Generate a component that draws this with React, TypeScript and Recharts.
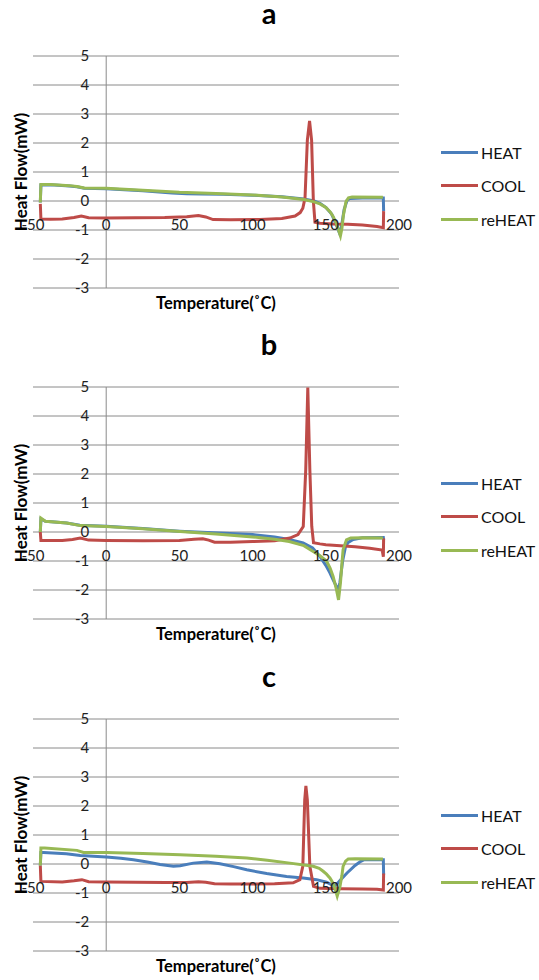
import React from "react";
import {
  LineChart,
  Line,
  XAxis,
  YAxis,
  CartesianGrid,
  ReferenceLine,
} from "recharts";

type Pt = [number, number];

// [temperature °C, heat flow mW]
const A_HEAT: Pt[] = [
  [-45, -0.05], [-44.6, 0.55], [-38, 0.56], [-25, 0.52], [-20, 0.49], [-15, 0.44],
  [0, 0.42], [25, 0.35], [45, 0.28], [55, 0.25], [65, 0.24], [80, 0.23], [100, 0.2],
  [120, 0.15], [135, 0.07], [142, 0.0], [146, -0.08], [150, -0.22], [154, -0.45],
  [157, -0.8], [159.3, -1.1], [160.8, -0.85], [162.5, -0.3], [164.5, 0.02], [166.5, 0.09],
  [175, 0.1], [189.3, 0.1], [189.5, -0.35],
];
const A_COOL: Pt[] = [
  [189.5, -0.35], [189.3, -0.92], [185, -0.88], [175, -0.83], [165, -0.8], [155, -0.79],
  [146, -0.77], [142.6, -0.73], [141.5, 0.0], [140.3, 2.1], [138.9, 2.76], [137.4, 2.1],
  [135.8, 0.1], [134.3, -0.25], [132.5, -0.4], [129, -0.52], [120, -0.6], [105, -0.64],
  [85, -0.65], [73, -0.64], [68, -0.55], [63, -0.5], [55, -0.54], [40, -0.57], [20, -0.58],
  [0, -0.59], [-12, -0.58], [-17, -0.52], [-22, -0.57], [-30, -0.62], [-38, -0.63],
  [-44.6, -0.62], [-45, -0.1],
];
const A_REHEAT: Pt[] = [
  [-45, -0.05], [-44.6, 0.57], [-38, 0.57], [-25, 0.53], [-20, 0.5], [-15, 0.45],
  [0, 0.44], [25, 0.37], [50, 0.3], [75, 0.26], [100, 0.21], [120, 0.14], [135, 0.05],
  [142, -0.03], [146, -0.1], [150, -0.22], [153, -0.38], [155, -0.53], [157, -0.75],
  [158.6, -0.98], [160, -1.2], [161, -0.95], [162, -0.5], [163.8, -0.02], [165.5, 0.11],
  [168, 0.14], [189, 0.13],
];

const B_HEAT: Pt[] = [
  [-45, 0.0], [-44.6, 0.45], [-41.5, 0.37], [-27, 0.31], [-18, 0.23], [0, 0.2],
  [25, 0.12], [50, 0.03], [73, -0.03], [100, -0.09], [115, -0.17], [125, -0.26],
  [134.5, -0.38], [141, -0.55], [146, -0.84], [150, -1.15], [152.8, -1.41], [155.5, -1.7],
  [157.5, -1.9], [158.4, -2.0], [159.6, -1.75], [161.5, -1.0], [163.5, -0.5],
  [165.3, -0.36], [168.7, -0.26], [175, -0.2], [189.3, -0.19], [189.5, -0.28],
];
const B_COOL: Pt[] = [
  [189.5, -0.22], [189.3, -0.85], [188.5, -0.62], [180, -0.56], [170, -0.51], [160, -0.47],
  [150, -0.44], [146, -0.41], [141.6, -0.37], [140.4, 0.2], [139.1, 2.15], [137.7, 4.98],
  [136.3, 2.15], [134.6, 0.19], [131, -0.09], [125.5, -0.21], [115, -0.3], [100, -0.33],
  [85, -0.35], [74, -0.35], [70, -0.28], [66, -0.23], [60, -0.25], [50, -0.29], [25, -0.3],
  [0, -0.29], [-12, -0.28], [-17.7, -0.21], [-23, -0.26], [-30, -0.29], [-44.6, -0.29],
  [-45, 0.0],
];
const B_REHEAT: Pt[] = [
  [-45, 0.0], [-44.6, 0.48], [-41.6, 0.37], [-27, 0.31], [-17.7, 0.22], [0, 0.19],
  [25, 0.11], [50.5, 0.02], [75, -0.07], [100, -0.17], [115, -0.25], [125, -0.33],
  [135, -0.47], [141.4, -0.67], [146, -0.82], [150.5, -1.0], [153, -1.25], [155, -1.53],
  [157.3, -1.99], [158.7, -2.34], [160, -1.76], [161, -1.1], [161.8, -0.61], [164.1, -0.27],
  [167, -0.21], [175, -0.2], [189, -0.21],
];

const C_HEAT: Pt[] = [
  [-45, -0.05], [-44.6, 0.4], [-42.8, 0.4], [-27.3, 0.35], [-17.7, 0.29], [0, 0.24],
  [10, 0.2], [18.6, 0.15], [28, 0.07], [36.8, -0.02], [45.9, -0.08], [50.5, -0.06],
  [59.5, 0.03], [68.7, 0.07], [77.7, 0.01], [87, -0.09], [96, -0.2], [109.6, -0.33],
  [123.2, -0.43], [134.5, -0.48], [143.7, -0.54], [150.5, -0.63], [156.2, -0.77],
  [160, -0.55], [164.5, -0.31], [170, -0.05], [173.9, 0.09], [176.3, 0.15], [189.3, 0.15],
  [189.5, -0.37],
];
const C_COOL: Pt[] = [
  [189.5, -0.33], [189.3, -0.9], [185, -0.87], [175, -0.86], [160, -0.85], [146, -0.84],
  [141.6, -0.77], [139.1, -0.08], [137.4, 2.2], [136.4, 2.69], [135.6, 2.2], [134.3, -0.08],
  [132.3, -0.54], [127.7, -0.65], [115, -0.68], [100, -0.69], [85, -0.69], [74, -0.68],
  [68, -0.63], [63, -0.61], [55, -0.64], [40, -0.64], [20, -0.63], [0, -0.62], [-12, -0.61],
  [-16.6, -0.54], [-22, -0.58], [-30, -0.62], [-44.6, -0.6], [-45, -0.05],
];
const C_REHEAT: Pt[] = [
  [-45, -0.05], [-44.6, 0.55], [-42, 0.55], [-20, 0.47], [-15.5, 0.4], [0, 0.4],
  [25, 0.36], [50.5, 0.32], [75, 0.27], [96, 0.21], [110, 0.13], [125.5, 0.03],
  [141.4, -0.08], [145.5, -0.15], [148.2, -0.25], [150.5, -0.35], [152.8, -0.48],
  [154.5, -0.62], [156.2, -0.83], [157.8, -1.11], [159.6, -0.8], [161, -0.4],
  [161.8, -0.08], [163.5, 0.1], [165.3, 0.17], [170, 0.18], [189, 0.17],
];

const X_TICKS = [-50, 0, 50, 100, 150, 200];
const Y_TICKS = [-3, -2, -1, 0, 1, 2, 3, 4, 5];
const SERIES_NAMES = ["HEAT", "COOL", "reHEAT"];
const COLORS = ["#4A7EBB", "#BE4B48", "#98B954"];

const W = 539;
const H = 325;
const M = { top: 56, right: 140, bottom: 36, left: 32 };
// axis sizes are 1px so recharts still renders the ticks
const PLOT_W = W - M.left - 1 - M.right;
const PLOT_H = H - M.top - M.bottom - 1;
const X_MIN = -50, X_MAX = 200, Y_MIN = -3, Y_MAX = 5;
const X0_PX = M.left + 1 + ((0 - X_MIN) / (X_MAX - X_MIN)) * PLOT_W;
const Y0_PX = M.top + ((Y_MAX - 0) / (Y_MAX - Y_MIN)) * PLOT_H;
const GRID = "#8a8a8a";
const FONT = "Lato, 'Open Sans', sans-serif";

const toPts = (arr: Pt[]) => arr.map(([t, q]) => ({ t, q }));

const XTick = (props: any) => (
  <text x={props.x} y={Y0_PX + 29} textAnchor="middle" fontSize={15} fill="#222" fontFamily={FONT}>
    {props.payload.value}
  </text>
);

const YTick = (props: any) => (
  <text x={X0_PX - 17} y={props.y + 5} textAnchor="end" fontSize={15} fill="#222" fontFamily={FONT}>
    {props.payload.value}
  </text>
);

function LegendBox() {
  return (
    <div style={{ position: "absolute", left: 441, top: 136, fontFamily: FONT, fontSize: 16, color: "#111" }}>
      {SERIES_NAMES.map((name, i) => (
        <div key={name} style={{ height: 33.3, display: "flex", alignItems: "center" }}>
          <div style={{ width: 37, height: 3, background: COLORS[i], marginRight: 3 }} />
          <span>{name}</span>
        </div>
      ))}
    </div>
  );
}

function Panel({ title, series, top }: { title: string; series: Pt[][]; top: number }) {
  return (
    <div style={{ position: "absolute", left: 0, top, width: W, height: H }}>
      <LineChart width={W} height={H} margin={M}>
        <CartesianGrid vertical={false} stroke={GRID} strokeWidth={1} />
        <XAxis
          dataKey="t"
          type="number"
          domain={[X_MIN, X_MAX]}
          ticks={X_TICKS}
          interval={0}
          height={1}
          axisLine={false}
          tickLine={false}
          tick={XTick}
          allowDataOverflow
        />
        <YAxis
          type="number"
          domain={[Y_MIN, Y_MAX]}
          ticks={Y_TICKS}
          interval={0}
          width={1}
          axisLine={false}
          tickLine={false}
          tick={YTick}
          allowDataOverflow
        />
        <ReferenceLine x={0} stroke={GRID} strokeWidth={1} />
        {series.map((s, i) => (
          <Line
            key={SERIES_NAMES[i]}
            name={SERIES_NAMES[i]}
            data={toPts(s)}
            dataKey="q"
            type="linear"
            stroke={COLORS[i]}
            strokeWidth={3}
            dot={false}
            isAnimationActive={false}
          />
        ))}
      </LineChart>
      <LegendBox />
      <svg
        width={W}
        height={H}
        style={{ position: "absolute", left: 0, top: 0, pointerEvents: "none", overflow: "visible" }}
      >
        <text x={269} y={24} textAnchor="middle" fontSize={29} fontWeight="bold" fontFamily={FONT} fill="#000">
          {title}
        </text>
        <text
          x={20.7}
          y={M.top + PLOT_H / 2}
          transform={`rotate(-90 20.7 ${M.top + PLOT_H / 2})`}
          textAnchor="middle"
          dominantBaseline="central"
          fontSize={17}
          fontWeight="bold"
          fontFamily={FONT}
          fill="#000"
        >
          Heat Flow(mW)
        </text>
        <text x={M.left + 1 + PLOT_W / 2} y={309} textAnchor="middle" fontSize={16.5} fontWeight="bold" fontFamily={FONT} fill="#000">
          Temperature(˚C)
        </text>
      </svg>
    </div>
  );
}

export default function App() {
  return (
    <div style={{ position: "absolute", left: 0, top: 0, width: W, height: 980, background: "#fff" }}>
      <Panel title="a" series={[A_HEAT, A_COOL, A_REHEAT]} top={0} />
      <Panel title="b" series={[B_HEAT, B_COOL, B_REHEAT]} top={331} />
      <Panel title="c" series={[C_HEAT, C_COOL, C_REHEAT]} top={663} />
    </div>
  );
}
